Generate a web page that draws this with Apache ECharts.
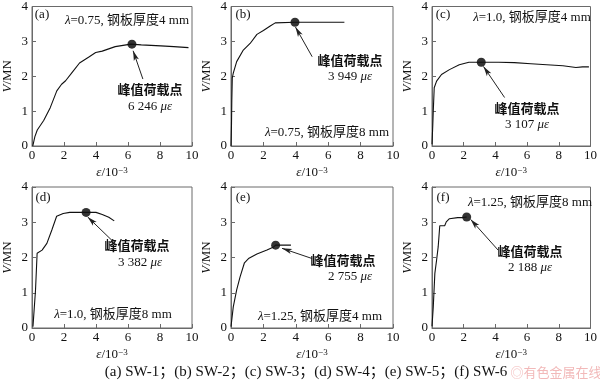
<!DOCTYPE html>
<html><head><meta charset="utf-8">
<script src="https://cdn.jsdelivr.net/npm/echarts@6/dist/echarts.min.js"></script>
<style>html,body{margin:0;padding:0;background:#fff}#c{width:600px;height:384px}</style>
</head><body><div id="c"></div>
<script>
// ---- data (ε in 10^-3, V in MN) ----
const epsA = [0.05,0.12,0.18,0.33,0.73,1.14,1.55,1.85,2.1,2.56,2.97,3.58,3.98,4.39,5.2,6.18,6.25,6.83,8.05,8.86,9.78];
const vA   = [0,0.15,0.27,0.46,0.73,1.1,1.58,1.77,1.87,2.14,2.38,2.56,2.68,2.72,2.85,2.92,2.92,2.9,2.87,2.85,2.82];
const epsB = [0.0,0.03,0.05,0.08,0.14,0.35,0.76,1.18,1.6,2.0,2.42,2.73,3.949,7.0];
const vB   = [0,0.6,1.3,1.95,2.09,2.42,2.75,2.94,3.2,3.31,3.44,3.53,3.55,3.55];
const epsC = [0.0,0.05,0.08,0.14,0.29,0.6,1.1,1.72,2.33,3.107,4.2,5.2,6.24,7.24,8.26,9.08,9.5,9.9];
const vC   = [0.05,0.6,1.0,1.67,1.86,2.05,2.19,2.33,2.4,2.4,2.4,2.39,2.36,2.33,2.3,2.25,2.27,2.27];
const epsD = [0.06,0.22,0.32,0.63,0.93,1.24,1.54,1.95,2.36,3.382,4.0,4.39,4.8,5.14];
const vD   = [0.04,1.08,2.12,2.21,2.4,2.78,3.17,3.25,3.28,3.28,3.28,3.22,3.14,3.04];
const epsE = [0.0,0.14,0.35,0.56,0.83,1.08,1.6,2.22,2.63,2.755,3.7];
const vE   = [0.04,0.6,1.08,1.45,1.85,1.97,2.1,2.21,2.3,2.35,2.35];
const epsF = [0.0,0.08,0.18,0.29,0.39,0.49,0.8,0.9,1.1,1.62,1.9,2.188];
const vF   = [0.05,0.6,1.55,1.93,2.3,2.9,2.9,3.01,3.1,3.13,3.13,3.15];
const peakEps = [6.246,3.949,3.107,3.382,2.755,2.188];
const peakV   = [2.92,3.55,2.4,3.28,2.35,3.15];
const peakLabels = ['6 246','3 949','3 107','3 382','2 755','2 188'];
const panelTags = ['(a)','(b)','(c)','(d)','(e)','(f)'];
const lambdas = ['0.75','0.75','1.0','1.0','1.25','1.25'];
const thickness = ['4','8','4','8','4','8'];
const xTicks = [0,2,4,6,8,10];
const yTicks = [0,1,2,3,4];
const caption = '(a) SW-1；(b) SW-2；(c) SW-3；(d) SW-4；(e) SW-5；(f) SW-6';

const epsAll = [epsA,epsB,epsC,epsD,epsE,epsF];
const vAll = [vA,vB,vC,vD,vE,vF];

// ---- layout ----
const FONT = '"Liberation Serif","Noto Sans CJK SC",serif';
const cols = [{left:28,width:164},{left:231,width:162},{left:432,width:163}];
const rows = [{top:4,height:142},{top:187,height:141}];
// arrow tail/head in data coords
const arrows = [
  [[6.93,1.92],[6.32,2.73]],
  [[5.01,2.56],[3.98,3.41]],
  [[4.58,1.39],[3.25,2.28]],
  [[5.10,2.44],[3.48,3.15]],
  [[5.01,1.97],[3.15,2.26]],
  [[4.17,2.21],[2.44,3.08]]
];
// text positions (pixel centers)
const tagPos  = [[42,15],[243,15],[443,15],[43,198],[243,198],[443,198]];
const condPos = [[127,21],[327,133],[532,18],[113,315],[320,317],[530,203]];
const peakPos = [[150,91],[350,62],[527,110],[137,247],[343,262],[530,253]];
const valPos  = [[150,107],[350,77],[527,125],[140,263],[350,277],[530,268]];

const grids=[],xAxes=[],yAxes=[],series=[],graphics=[];
const axisColor = '#6a6a6a';
for (let i=0;i<6;i++){
  const c = cols[i%3], r = rows[Math.floor(i/3)];
  grids.push({left:c.left,top:r.top,width:c.width,height:r.height,show:true,borderColor:axisColor,borderWidth:1,containLabel:false});
  xAxes.push({gridIndex:i,type:'value',min:xTicks[0],max:xTicks[xTicks.length-1],interval:2,
    axisLine:{show:true,lineStyle:{color:axisColor,width:1}},
    axisTick:{show:true,inside:true,length:4,lineStyle:{color:axisColor}},
    splitLine:{show:false},
    axisLabel:{color:'#111',fontSize:13,fontFamily:FONT,margin:3},
    name:'{i|ε}/10{s|−3}',nameLocation:'middle',nameGap:20,
    nameTextStyle:{color:'#111',fontSize:13,fontFamily:FONT,
      rich:{i:{fontStyle:'italic',fontSize:13,fontFamily:FONT,color:'#111'},
            s:{fontSize:9,fontFamily:FONT,verticalAlign:'top',lineHeight:9,color:'#111'}}}
  });
  yAxes.push({gridIndex:i,type:'value',min:yTicks[0],max:yTicks[yTicks.length-1],interval:1,
    axisLine:{show:true,lineStyle:{color:axisColor,width:1}},
    axisTick:{show:true,inside:true,length:4,lineStyle:{color:axisColor}},
    splitLine:{show:false},
    axisLabel:{color:'#111',fontSize:13,fontFamily:FONT,margin:4},
    name:'{i|V}/MN',nameLocation:'middle',nameGap:18,
    nameTextStyle:{color:'#111',fontSize:13,fontFamily:FONT,
      rich:{i:{fontStyle:'italic',fontSize:13,fontFamily:FONT,color:'#111'}}}
  });
  const e = epsAll[i], v = vAll[i];
  series.push({type:'line',xAxisIndex:i,yAxisIndex:i,data:e.map((x,k)=>[x,v[k]]),
    showSymbol:false,symbol:'none',lineStyle:{color:'#111',width:1.1},animation:false,silent:true,
    markLine:{silent:true,animation:false,symbol:['none','arrow'],symbolSize:[4,10],
      lineStyle:{color:'#222',width:1,type:'solid'},itemStyle:{color:'#222'},label:{show:false},
      data:[[{coord:arrows[i][0]},{coord:arrows[i][1]}]]}
  });
  series.push({type:'scatter',xAxisIndex:i,yAxisIndex:i,data:[[peakEps[i],peakV[i]]],
    symbol:'circle',symbolSize:9,itemStyle:{color:'#000'},animation:false,silent:true});
  const baseStyle = {fill:'#111',fontSize:13,fontFamily:FONT,align:'center',verticalAlign:'middle'};
  graphics.push({type:'text',x:tagPos[i][0],y:tagPos[i][1],style:Object.assign({},baseStyle,{text:panelTags[i]})});
  graphics.push({type:'text',x:condPos[i][0],y:condPos[i][1],style:Object.assign({},baseStyle,{
    text:'{i|λ}=' + lambdas[i] + ', 钢板厚度' + thickness[i] + ' mm',
    rich:{i:{fontStyle:'italic',fontSize:13,fontFamily:FONT,fill:'#111'}}})});
  graphics.push({type:'text',x:peakPos[i][0],y:peakPos[i][1],style:Object.assign({},baseStyle,{text:'峰值荷载点',fontSize:13,fontWeight:'bold'})});
  graphics.push({type:'text',x:valPos[i][0],y:valPos[i][1],style:Object.assign({},baseStyle,{
    text:peakLabels[i]+' {i|με}',
    rich:{i:{fontStyle:'italic',fontSize:13,fontFamily:FONT,fill:'#111'}}})});
}
graphics.push({type:'text',x:306,y:372,style:{text:caption,fill:'#111',fontSize:15,fontFamily:FONT,align:'center',verticalAlign:'middle'}});
graphics.push({type:'text',x:556,y:372,style:{text:'◎有色金属在线',fill:'#f2b9b9',fontSize:13,fontFamily:'"Noto Sans CJK SC",sans-serif',align:'center',verticalAlign:'middle'}});

const chart = echarts.init(document.getElementById('c'),null,{renderer:'canvas'});
chart.setOption({animation:false,backgroundColor:'#fff',grid:grids,xAxis:xAxes,yAxis:yAxes,series:series,graphic:graphics});
</script></body></html>
